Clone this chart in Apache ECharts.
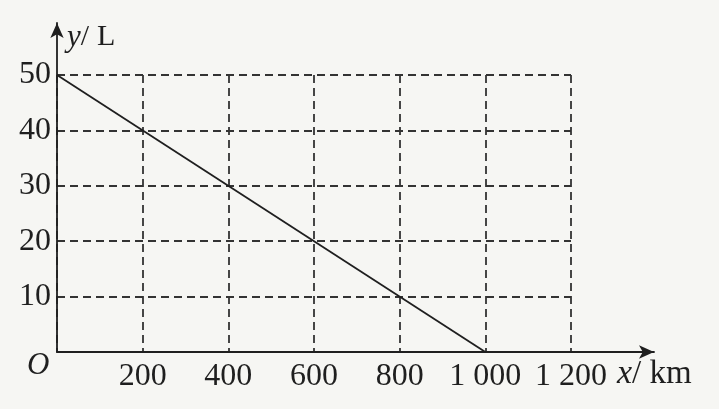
<!DOCTYPE html>
<html><head><meta charset="utf-8">
<script src="https://cdn.jsdelivr.net/npm/echarts@6/dist/echarts.min.js"></script>
<style>html,body{margin:0;padding:0;background:#f6f6f3;}#c{width:719px;height:409px;}</style>
</head><body><div id="c"></div>
<script>
const xTicks = [0, 200, 400, 600, 800, 1000, 1200];
const yTicks = [0, 10, 20, 30, 40, 50];
const xLabels = {200:'200',400:'400',600:'600',800:'800',1000:'1 000',1200:'1 200'};
const distance = [0, 1000];
const fuel = [50, 0];

const chart = echarts.init(document.getElementById('c'));
const font = 'Liberation Serif';
const ink = '#1f1f1f';
const dash = {color: '#333', width: 1.8, type: [8, 5]};
chart.setOption({
  backgroundColor: '#f6f6f3',
  animation: false,
  grid: [
    {left: 57, top: 75, width: 514, height: 277},
    {left: 57, top: 23, width: 597, height: 329}
  ],
  xAxis: [
    {gridIndex: 0, type: 'value', min: xTicks[0], max: xTicks[xTicks.length-1], interval: 200,
     axisLine: {show: false}, axisTick: {show: false},
     axisLabel: {margin: 9, color: ink, fontFamily: font, fontSize: 32,
       formatter: v => xLabels[v] || ''},
     splitLine: {show: true, lineStyle: dash}},
    {gridIndex: 1, type: 'value', min: 0, max: 1394,
     axisLine: {show: true, lineStyle: {color: ink, width: 1.8}, symbol: ['none', 'arrow'], symbolSize: [10, 15]},
     axisTick: {show: false}, axisLabel: {show: false}, splitLine: {show: false}}
  ],
  yAxis: [
    {gridIndex: 0, type: 'value', min: yTicks[0], max: yTicks[yTicks.length-1], interval: 10,
     axisLine: {show: false}, axisTick: {show: false},
     axisLabel: {margin: 6, color: ink, fontFamily: font, fontSize: 32,
       formatter: v => v === 0 ? '' : String(v)},
     splitLine: {show: true, lineStyle: dash}},
    {gridIndex: 1, type: 'value', min: 0, max: 59.4,
     axisLine: {show: true, lineStyle: {color: ink, width: 1.8}, symbol: ['none', 'arrow'], symbolSize: [10, 15]},
     axisTick: {show: false}, axisLabel: {show: false}, splitLine: {show: false}}
  ],
  graphic: [
    {type: 'text', left: 27, top: 350, style: {text: 'O', font: 'italic 31px "Liberation Serif"', fill: ink}},
    {type: 'text', left: 67, top: 22, style: {rich: {i: {font: 'italic 31px "Liberation Serif"', fill: ink}, n: {font: '30px "Liberation Serif"', fill: ink}, l: {font: '30px "Liberation Serif"', fill: ink, padding: [0, 0, 0, 8]}}, text: '{i|y}{n|/}{l|L}'}},
    {type: 'text', left: 617, top: 357, style: {rich: {i: {font: 'italic 34px "Liberation Serif"', fill: ink}, n: {font: '33px "Liberation Serif"', fill: ink}}, text: '{i|x}{n|/ km}'}}
  ],
  series: [{
    type: 'line', xAxisIndex: 0, yAxisIndex: 0,
    data: distance.map((d, i) => [d, fuel[i]]),
    showSymbol: false, lineStyle: {color: ink, width: 1.8}, z: 5
  }]
});
</script></body></html>
